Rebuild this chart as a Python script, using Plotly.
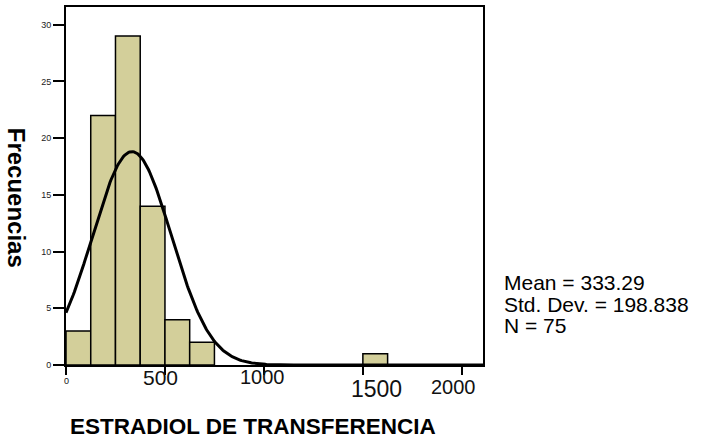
import numpy as np
import plotly.graph_objects as go

# datos del histograma (ancho de clase 125)
bin_left = [0, 125, 250, 375, 500, 625, 1500]
counts = [3, 22, 29, 14, 4, 2, 1]
bin_width = 125

mean_val = 333.29
std_val = 198.838
n_val = 75

x_ticks = [0, 500, 1000, 1500, 2000]
y_ticks = [0, 5, 10, 15, 20, 25, 30]
stats_lines = ['Mean = 333.29', 'Std. Dev. = 198.838', 'N = 75']

W, H = 717, 443
L, R, T, B = 66, 483, 7, 365.5
x_max = 2107
y_max = 31.56

def px(xp):
    return (xp - L) / (R - L)

def py(yp):
    return (B - yp) / (B - T)

font = 'Liberation Sans, Arial, sans-serif'

# curva normal con la media y desviación indicadas
xc = np.linspace(0, x_max, 400)
yc = n_val * bin_width / (std_val * np.sqrt(2 * np.pi)) * np.exp(-0.5 * ((xc - mean_val) / std_val) ** 2)

fig = go.Figure()
fig.add_trace(go.Bar(
    x=[b + bin_width / 2 for b in bin_left],
    y=counts,
    width=bin_width,
    marker=dict(color='rgb(211,207,154)', line=dict(color='black', width=1.5)),
))
fig.add_trace(go.Scatter(x=xc, y=yc, mode='lines', line=dict(color='black', width=3)))

fig.update_layout(
    width=W, height=H,
    margin=dict(l=L, r=W - R, t=T, b=H - B, autoexpand=False),
    plot_bgcolor='white', paper_bgcolor='white',
    showlegend=False,
    font=dict(family=font, color='black'),
    xaxis=dict(
        range=[0, x_max], tickvals=x_ticks, showticklabels=False,
        ticks='outside', ticklen=8, tickwidth=1.5, tickcolor='black',
        showgrid=False, zeroline=False,
        showline=True, linecolor='black', linewidth=2, mirror=True,
    ),
    yaxis=dict(
        range=[0, y_max], tickvals=y_ticks,
        ticks='outside', ticklen=11, tickwidth=1.5, tickcolor='black',
        tickfont=dict(size=9, color='#222'),
        showgrid=False, zeroline=False,
        showline=True, linecolor='black', linewidth=2, mirror=True,
    ),
)

# etiquetas del eje x (tamaños y posiciones como en el original)
label_style = [(66, 382, 9), (160, 378, 21), (262, 378, 20), (376, 390, 23), (453, 388, 20)]
for v, (xp, yp, s) in zip(x_ticks, label_style):
    fig.add_annotation(x=px(xp), y=py(yp), xref='paper', yref='paper', text=str(v),
                       showarrow=False, xanchor='center', yanchor='middle',
                       font=dict(size=s, color='#111'))

fig.add_annotation(x=px(253), y=py(427), xref='paper', yref='paper',
                   text='<b>ESTRADIOL DE TRANSFERENCIA</b>', showarrow=False,
                   xanchor='center', yanchor='middle', font=dict(size=22.5))
fig.add_annotation(x=px(16), y=py(198), xref='paper', yref='paper',
                   text='<b>Frecuencias</b>', showarrow=False, textangle=90,
                   xanchor='center', yanchor='middle', font=dict(size=24))

for line, yp in zip(stats_lines, [283, 305, 326]):
    fig.add_annotation(x=px(502), y=py(yp), xref='paper', yref='paper', text=line,
                       showarrow=False, xanchor='left', yanchor='middle',
                       font=dict(size=21))

fig.write_html('out.html', config={'displayModeBar': False},
               post_script="document.body.style.margin='0';")
